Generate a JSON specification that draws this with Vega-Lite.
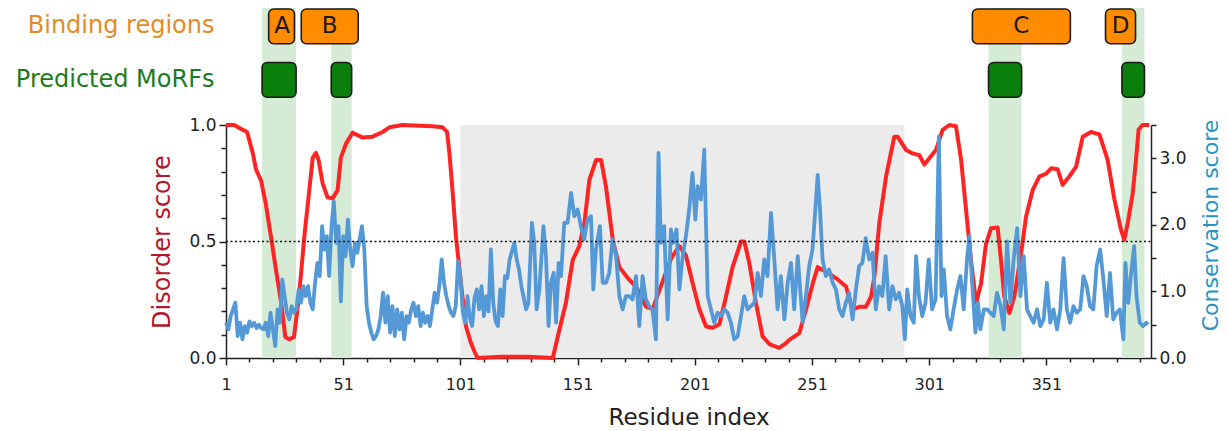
{
  "$schema": "https://vega.github.io/schema/vega-lite/v6.json",
  "padding": {"left": 15, "top": 8, "right": 0, "bottom": 0},
  "background": "white",
  "bounds": "flush",
  "spacing": 0,
  "config": {
    "font": "DejaVu Sans",
    "view": {"stroke": null},
    "axis": {"grid": false, "domainColor": "#222222", "tickColor": "#222222", "labelColor": "#222222", "labelFont": "DejaVu Sans", "titleFont": "DejaVu Sans", "titleFontWeight": "normal", "domainWidth": 1.5, "tickWidth": 1.5}
  },
  "datasets": {
    "regions": [
      {"track": "Binding regions", "r": 19.2, "r2": 30.2, "label": "A", "center": 24.9},
      {"track": "Binding regions", "r": 33.1, "r2": 57.4, "label": "B", "center": 45.2},
      {"track": "Binding regions", "r": 319.4, "r2": 361.2, "label": "C", "center": 340.3},
      {"track": "Binding regions", "r": 376.2, "r2": 389.0, "label": "D", "center": 382.6},
      {"track": "Predicted MoRFs", "r": 16.4, "r2": 30.9, "label": "", "center": 23.6},
      {"track": "Predicted MoRFs", "r": 45.9, "r2": 54.6, "label": "", "center": 50.2},
      {"track": "Predicted MoRFs", "r": 326.3, "r2": 340.4, "label": "", "center": 333.3},
      {"track": "Predicted MoRFs", "r": 383.2, "r2": 392.8, "label": "", "center": 388.0}
    ],
    "shade": [{"r": 101, "r2": 290.4}],
    "threshold": [{"r": 1, "r2": 395.6, "d": 0.5}],
    "dis": [
      {"r":1,"d":1.0},{"r":4.5,"d":1.0},{"r":8,"d":0.98},{"r":10,"d":0.97},{"r":12.4,"d":0.88},{"r":13.8,"d":0.81},{"r":16,"d":0.76},{"r":18,"d":0.66},{"r":20.2,"d":0.52},{"r":22.3,"d":0.38},{"r":24.5,"d":0.24},{"r":26.3,"d":0.09},{"r":28,"d":0.08},{"r":30,"d":0.09},{"r":31.5,"d":0.21},{"r":33,"d":0.36},{"r":34.4,"d":0.52},{"r":36.2,"d":0.69},{"r":38,"d":0.86},{"r":39.4,"d":0.88},{"r":40.5,"d":0.85},{"r":42.2,"d":0.75},{"r":44.3,"d":0.69},{"r":46.5,"d":0.685},{"r":48.6,"d":0.72},{"r":50,"d":0.86},{"r":52.2,"d":0.92},{"r":55,"d":0.967},{"r":59.3,"d":0.946},{"r":63.5,"d":0.95},{"r":67.8,"d":0.97},{"r":70.7,"d":0.99},{"r":76.3,"d":1.0},{"r":89,"d":0.995},{"r":93.4,"d":0.99},{"r":95.3,"d":0.97},{"r":96.3,"d":0.88},{"r":97.7,"d":0.71},{"r":99.1,"d":0.52},{"r":100.5,"d":0.39},{"r":101.9,"d":0.26},{"r":103.4,"d":0.135},{"r":105.5,"d":0.064},{"r":106.9,"d":0.03},{"r":108.3,"d":0.0},{"r":118,"d":0.005},{"r":130,"d":0.005},{"r":140.4,"d":0.0},{"r":143.2,"d":0.12},{"r":146,"d":0.236},{"r":148.9,"d":0.42},{"r":151.7,"d":0.48},{"r":153.9,"d":0.58},{"r":156,"d":0.764},{"r":158.9,"d":0.85},{"r":161,"d":0.85},{"r":163.1,"d":0.735},{"r":166,"d":0.507},{"r":168.8,"d":0.39},{"r":173,"d":0.336},{"r":175.9,"d":0.307},{"r":180.2,"d":0.22},{"r":183,"d":0.21},{"r":187.3,"d":0.33},{"r":191,"d":0.43},{"r":194.4,"d":0.48},{"r":197.2,"d":0.44},{"r":200.1,"d":0.32},{"r":202.9,"d":0.21},{"r":205.8,"d":0.135},{"r":208.6,"d":0.13},{"r":211.5,"d":0.145},{"r":214.3,"d":0.264},{"r":217.1,"d":0.39},{"r":220.7,"d":0.5},{"r":222.1,"d":0.5},{"r":224.2,"d":0.41},{"r":227.1,"d":0.236},{"r":229.9,"d":0.093},{"r":232.8,"d":0.06},{"r":237,"d":0.043},{"r":239.9,"d":0.064},{"r":241.3,"d":0.078},{"r":245.6,"d":0.107},{"r":248.4,"d":0.207},{"r":251.3,"d":0.32},{"r":253.4,"d":0.39},{"r":257,"d":0.37},{"r":261.2,"d":0.343},{"r":265.5,"d":0.307},{"r":268.3,"d":0.207},{"r":271.2,"d":0.22},{"r":274,"d":0.22},{"r":276.2,"d":0.264},{"r":277.6,"d":0.35},{"r":279.7,"d":0.58},{"r":282.6,"d":0.78},{"r":286.1,"d":0.95},{"r":287.5,"d":0.95},{"r":291.1,"d":0.893},{"r":293.9,"d":0.878},{"r":296.8,"d":0.87},{"r":298.9,"d":0.83},{"r":301,"d":0.857},{"r":303.9,"d":0.893},{"r":306.7,"d":0.979},{"r":309.6,"d":1.0},{"r":312.4,"d":0.995},{"r":314.6,"d":0.85},{"r":316.7,"d":0.636},{"r":318.8,"d":0.42},{"r":321,"d":0.236},{"r":323.1,"d":0.32},{"r":325.2,"d":0.49},{"r":327.4,"d":0.557},{"r":330.2,"d":0.56},{"r":331.6,"d":0.42},{"r":333,"d":0.264},{"r":335.2,"d":0.193},{"r":337.3,"d":0.264},{"r":340.2,"d":0.45},{"r":342.3,"d":0.607},{"r":345.1,"d":0.72},{"r":348,"d":0.78},{"r":350.8,"d":0.79},{"r":353,"d":0.814},{"r":355.8,"d":0.81},{"r":357.9,"d":0.743},{"r":360.8,"d":0.78},{"r":363.6,"d":0.82},{"r":366.5,"d":0.95},{"r":370,"d":0.97},{"r":373.6,"d":0.96},{"r":377.1,"d":0.85},{"r":380,"d":0.68},{"r":382.8,"d":0.55},{"r":384.2,"d":0.507},{"r":385.7,"d":0.58},{"r":387.8,"d":0.707},{"r":389.2,"d":0.85},{"r":390.3,"d":0.98},{"r":392,"d":1.0},{"r":394.9,"d":1.0}
    ],
    "cons": [
      {"r":1,"c":0.53},{"r":2,"c":0.43},{"r":3,"c":0.63},{"r":4,"c":0.73},{"r":5,"c":0.83},{"r":6,"c":0.33},{"r":7,"c":0.53},{"r":8,"c":0.28},{"r":9,"c":0.48},{"r":10,"c":0.38},{"r":11,"c":0.55},{"r":12,"c":0.48},{"r":13,"c":0.53},{"r":14,"c":0.45},{"r":15,"c":0.5},{"r":16,"c":0.45},{"r":17,"c":0.43},{"r":18,"c":0.53},{"r":19,"c":0.33},{"r":20,"c":0.68},{"r":21,"c":0.43},{"r":22,"c":0.18},{"r":23,"c":0.73},{"r":24,"c":0.53},{"r":25,"c":1.18},{"r":26,"c":0.93},{"r":27,"c":0.68},{"r":28,"c":0.58},{"r":29,"c":0.78},{"r":30,"c":0.68},{"r":31,"c":0.73},{"r":32,"c":1.03},{"r":33,"c":0.83},{"r":34,"c":1.08},{"r":35,"c":0.93},{"r":36,"c":1.08},{"r":37,"c":0.83},{"r":38,"c":0.73},{"r":39,"c":1.13},{"r":40,"c":1.43},{"r":41,"c":1.23},{"r":42,"c":1.98},{"r":43,"c":1.63},{"r":44,"c":1.83},{"r":45,"c":1.23},{"r":46,"c":1.98},{"r":47,"c":2.35},{"r":48,"c":1.73},{"r":49,"c":1.98},{"r":50,"c":0.85},{"r":51,"c":1.83},{"r":52,"c":1.53},{"r":53,"c":2.08},{"r":54,"c":1.63},{"r":55,"c":1.38},{"r":56,"c":1.73},{"r":57,"c":1.58},{"r":58,"c":1.78},{"r":59,"c":1.98},{"r":60,"c":1.63},{"r":61,"c":0.78},{"r":62,"c":0.53},{"r":63,"c":0.38},{"r":64,"c":0.28},{"r":65,"c":0.33},{"r":66,"c":0.43},{"r":67,"c":0.63},{"r":68,"c":0.98},{"r":69,"c":0.53},{"r":70,"c":0.93},{"r":71,"c":0.38},{"r":72,"c":0.78},{"r":73,"c":0.33},{"r":74,"c":0.73},{"r":75,"c":0.43},{"r":76,"c":0.68},{"r":77,"c":0.28},{"r":78,"c":0.63},{"r":79,"c":0.53},{"r":80,"c":0.73},{"r":81,"c":0.83},{"r":82,"c":0.63},{"r":83,"c":0.78},{"r":84,"c":0.48},{"r":85,"c":0.68},{"r":86,"c":0.53},{"r":87,"c":0.63},{"r":88,"c":0.48},{"r":89,"c":0.73},{"r":90,"c":0.98},{"r":91,"c":0.83},{"r":92,"c":1.08},{"r":93,"c":1.48},{"r":94,"c":1.13},{"r":95,"c":0.93},{"r":96,"c":0.78},{"r":97,"c":0.68},{"r":98,"c":0.63},{"r":99,"c":0.78},{"r":100,"c":1.45},{"r":101,"c":1.2},{"r":102,"c":0.7},{"r":103,"c":0.53},{"r":104,"c":0.93},{"r":105,"c":0.6},{"r":106,"c":0.48},{"r":107,"c":0.9},{"r":108,"c":1.03},{"r":109,"c":0.73},{"r":110,"c":1.08},{"r":111,"c":0.63},{"r":112,"c":0.93},{"r":113,"c":0.7},{"r":114,"c":1.63},{"r":115,"c":0.83},{"r":116,"c":0.55},{"r":117,"c":0.48},{"r":118,"c":1.03},{"r":119,"c":0.63},{"r":120,"c":1.23},{"r":121,"c":1.2},{"r":122,"c":1.48},{"r":124,"c":1.73},{"r":125,"c":1.48},{"r":126,"c":1.33},{"r":127,"c":1.08},{"r":129,"c":0.73},{"r":130,"c":0.83},{"r":131.5,"c":2.03},{"r":132.5,"c":1.73},{"r":133.5,"c":0.73},{"r":134.7,"c":1.03},{"r":136.4,"c":1.98},{"r":137.5,"c":1.53},{"r":138.6,"c":0.48},{"r":139.6,"c":1.13},{"r":140.8,"c":1.28},{"r":141.8,"c":0.53},{"r":142.9,"c":1.43},{"r":143.9,"c":1.23},{"r":145.3,"c":2.03},{"r":146.7,"c":2.03},{"r":148.2,"c":2.48},{"r":149.6,"c":2.13},{"r":151,"c":2.23},{"r":152.4,"c":1.98},{"r":153.8,"c":1.78},{"r":155.2,"c":2.08},{"r":156.7,"c":2.13},{"r":157.7,"c":1.03},{"r":158.8,"c":1.63},{"r":160.5,"c":1.98},{"r":161.7,"c":1.13},{"r":163.1,"c":1.13},{"r":164.5,"c":1.28},{"r":165.9,"c":1.78},{"r":167.4,"c":1.53},{"r":168.8,"c":0.93},{"r":170.2,"c":0.73},{"r":171.6,"c":0.93},{"r":173,"c":0.93},{"r":174.4,"c":0.88},{"r":175.9,"c":1.23},{"r":177.3,"c":0.48},{"r":178.7,"c":1.23},{"r":180.1,"c":0.88},{"r":181.5,"c":0.78},{"r":182.9,"c":0.73},{"r":184.4,"c":0.28},{"r":185.5,"c":3.08},{"r":186.5,"c":1.73},{"r":187.9,"c":1.98},{"r":189.4,"c":0.58},{"r":190.8,"c":1.93},{"r":191.8,"c":1.73},{"r":193.2,"c":1.93},{"r":194.4,"c":1.03},{"r":195.8,"c":1.53},{"r":197.2,"c":1.83},{"r":198.6,"c":2.23},{"r":200,"c":2.78},{"r":201.2,"c":2.08},{"r":202.2,"c":2.58},{"r":203.6,"c":2.38},{"r":205,"c":3.13},{"r":206.5,"c":0.93},{"r":207.9,"c":0.73},{"r":209.3,"c":0.53},{"r":210.7,"c":0.68},{"r":212.2,"c":0.63},{"r":213.6,"c":0.73},{"r":215,"c":0.68},{"r":216.4,"c":0.53},{"r":217.8,"c":0.28},{"r":219.3,"c":0.33},{"r":220.7,"c":0.63},{"r":222.1,"c":0.93},{"r":223.5,"c":0.73},{"r":224.9,"c":0.78},{"r":226.4,"c":0.83},{"r":227.8,"c":1.28},{"r":229.2,"c":0.93},{"r":230.6,"c":1.48},{"r":232,"c":1.23},{"r":233.5,"c":2.18},{"r":234.9,"c":1.48},{"r":236.3,"c":0.73},{"r":237.7,"c":1.23},{"r":239.2,"c":0.58},{"r":240.6,"c":1.13},{"r":242,"c":1.43},{"r":243.4,"c":0.73},{"r":244.9,"c":1.53},{"r":247,"c":0.53},{"r":248.4,"c":0.93},{"r":249.8,"c":1.38},{"r":251.2,"c":1.63},{"r":252.4,"c":2.23},{"r":253.4,"c":2.75},{"r":254.4,"c":2.23},{"r":255.5,"c":1.48},{"r":256.9,"c":1.23},{"r":258.3,"c":1.33},{"r":259.8,"c":1.13},{"r":261.2,"c":1.03},{"r":262.6,"c":0.73},{"r":264,"c":0.63},{"r":265.4,"c":0.83},{"r":266.8,"c":0.98},{"r":268.3,"c":0.58},{"r":269.7,"c":1.03},{"r":271.1,"c":1.38},{"r":272.5,"c":1.43},{"r":273.9,"c":1.8},{"r":275.4,"c":1.48},{"r":276.8,"c":1.58},{"r":278.2,"c":0.73},{"r":279.6,"c":1.08},{"r":281,"c":0.93},{"r":282.4,"c":1.53},{"r":283.9,"c":0.73},{"r":285.3,"c":1.08},{"r":286.7,"c":0.88},{"r":288.1,"c":0.98},{"r":289.5,"c":0.78},{"r":290.6,"c":0.28},{"r":291.6,"c":1.03},{"r":293,"c":0.63},{"r":294.4,"c":0.53},{"r":295.4,"c":1.53},{"r":296.6,"c":0.93},{"r":298,"c":0.63},{"r":299.4,"c":0.83},{"r":300.8,"c":1.48},{"r":302.2,"c":0.73},{"r":303.7,"c":0.88},{"r":305.1,"c":3.33},{"r":306.2,"c":0.93},{"r":307.2,"c":1.33},{"r":308.6,"c":0.63},{"r":310,"c":0.43},{"r":311.4,"c":0.73},{"r":312.9,"c":1.03},{"r":314.3,"c":1.23},{"r":315.7,"c":0.73},{"r":317.1,"c":1.48},{"r":318.1,"c":1.83},{"r":319.3,"c":1.13},{"r":320.7,"c":0.38},{"r":321.8,"c":0.83},{"r":322.8,"c":0.43},{"r":324.3,"c":0.73},{"r":325.7,"c":0.73},{"r":327.1,"c":0.68},{"r":328.5,"c":0.63},{"r":329.9,"c":0.98},{"r":331.4,"c":0.78},{"r":332.8,"c":0.43},{"r":334.2,"c":1.75},{"r":335.6,"c":0.83},{"r":337,"c":1.48},{"r":338.5,"c":1.95},{"r":339.9,"c":0.93},{"r":341.3,"c":1.53},{"r":342.7,"c":0.73},{"r":344.1,"c":0.63},{"r":345.5,"c":0.53},{"r":347,"c":0.73},{"r":348.4,"c":0.48},{"r":349.8,"c":0.58},{"r":351.2,"c":1.13},{"r":352.6,"c":0.53},{"r":354,"c":0.73},{"r":355.5,"c":0.43},{"r":356.9,"c":0.73},{"r":358.3,"c":1.5},{"r":359.7,"c":0.73},{"r":361.1,"c":0.53},{"r":362.5,"c":0.78},{"r":363.9,"c":0.68},{"r":365.4,"c":0.73},{"r":366.8,"c":1.23},{"r":368.2,"c":1.08},{"r":369.6,"c":0.78},{"r":371,"c":0.73},{"r":372.4,"c":1.38},{"r":373.9,"c":1.63},{"r":375.3,"c":1.18},{"r":376.7,"c":0.63},{"r":378.1,"c":1.28},{"r":379.5,"c":0.58},{"r":380.9,"c":0.68},{"r":382.3,"c":0.73},{"r":383.8,"c":0.28},{"r":384.7,"c":1.43},{"r":385.9,"c":0.83},{"r":387.3,"c":1.33},{"r":388.4,"c":1.68},{"r":389.4,"c":0.93},{"r":390.8,"c":0.53},{"r":392.2,"c":0.48},{"r":393.6,"c":0.53},{"r":394.3,"c":0.5}
    ]
  },
  "vconcat": [
    {
      "width": 925,
      "height": 117,
      "encoding": {
        "x": {"field": "r", "type": "quantitative", "scale": {"domain": [1, 395.6], "nice": false, "zero": false}, "axis": null}
      },
      "layer": [
        {
          "data": {"name": "regions"},
          "transform": [{"filter": "datum.track == 'Predicted MoRFs'"}],
          "mark": {"type": "rect", "color": "#d6ebd6"},
          "encoding": {"x2": {"field": "r2"}}
        },
        {
          "data": {"name": "regions"},
          "mark": {"type": "rect", "cornerRadius": 5, "stroke": "#1a1a1a", "strokeWidth": 1.6, "opacity": 1},
          "encoding": {
            "x2": {"field": "r2"},
            "y": {
              "field": "track", "type": "nominal",
              "scale": {"domain": ["Binding regions", "Predicted MoRFs"], "paddingInner": 0.352, "paddingOuter": 0.269, "align": 0.035},
              "axis": {
                "title": null, "domain": false, "ticks": false, "labelPadding": 12, "labelFontSize": 24, "labelLimit": 0,
                "labelColor": {"condition": {"test": "datum.value == 'Binding regions'", "value": "#e48b25"}, "value": "#1d7a1d"}
              }
            },
            "color": {"field": "track", "type": "nominal", "scale": {"domain": ["Binding regions", "Predicted MoRFs"], "range": ["#ff8c00", "#0b7f0b"]}, "legend": null}
          }
        },
        {
          "data": {"name": "regions"},
          "transform": [{"filter": "datum.label != ''"}],
          "mark": {"type": "text", "fontSize": 23, "color": "#1a1a1a", "font": "DejaVu Sans"},
          "encoding": {
            "x": {"field": "center", "type": "quantitative", "scale": {"domain": [1, 395.6], "nice": false, "zero": false}, "axis": null},
            "y": {"field": "track", "type": "nominal"},
            "text": {"field": "label"}
          }
        }
      ]
    },
    {
      "width": 925,
      "height": 233,
      "encoding": {
        "x": {
          "field": "r", "type": "quantitative",
          "scale": {"domain": [1, 395.6], "nice": false, "zero": false},
          "axis": {
            "title": "Residue index",
            "values": [1, 11, 21, 31, 41, 51, 61, 71, 81, 91, 101, 111, 121, 131, 141, 151, 161, 171, 181, 191, 201, 211, 221, 231, 241, 251, 261, 271, 281, 291, 301, 311, 321, 331, 341, 351, 361, 371, 381, 391],
            "labelExpr": "datum.value % 50 == 1 ? datum.label : ''",
            "tickSize": {"condition": {"test": "datum.value % 50 == 1", "value": 7}, "value": 4},
            "labelFontSize": 16, "labelPadding": 11, "labelOverlap": false, "labelFlush": false,
            "titleFontSize": 23, "titlePadding": 14, "titleColor": "#222222"
          }
        }
      },
      "layer": [
        {
          "data": {"name": "shade"},
          "mark": {"type": "rect", "color": "#ebebeb"},
          "encoding": {"x2": {"field": "r2"}}
        },
        {
          "data": {"name": "regions"},
          "transform": [{"filter": "datum.track == 'Predicted MoRFs'"}],
          "mark": {"type": "rect", "color": "#d6ebd6"},
          "encoding": {"x2": {"field": "r2"}}
        },
        {
          "data": {"name": "dis"},
          "mark": {"type": "line", "color": "#ff2424", "strokeWidth": 4, "strokeJoin": "round"},
          "encoding": {
            "y": {
              "field": "d", "type": "quantitative",
              "scale": {"domain": [0, 1], "nice": false, "zero": false},
              "axis": {
                "orient": "left", "title": "Disorder score",
                "values": [0, 0.1, 0.2, 0.3, 0.4, 0.5, 0.6, 0.7, 0.8, 0.9, 1.0],
                "format": ".1f",
                "labelExpr": "abs(datum.value * 2 - round(datum.value * 2)) < 0.01 ? format(datum.value, '.1f') : ''",
                "tickSize": {"condition": {"test": "abs(datum.value * 2 - round(datum.value * 2)) < 0.01", "value": 7}, "value": 5},
                "labelFontSize": 17, "labelPadding": 3, "labelOverlap": false, "labelFlush": false,
                "titleFontSize": 24, "titleColor": "#b2182b", "titlePadding": 14
              }
            }
          }
        },
        {
          "data": {"name": "cons"},
          "mark": {"type": "line", "color": "#5499d6", "strokeWidth": 3.8, "strokeJoin": "round"},
          "encoding": {
            "y": {
              "field": "c", "type": "quantitative",
              "scale": {"domain": [0, 3.5], "nice": false, "zero": false},
              "axis": {
                "orient": "right", "title": "Conservation score",
                "values": [0, 0.5, 1, 1.5, 2, 2.5, 3, 3.5],
                "labelExpr": "datum.value % 1 == 0 ? format(datum.value, '.1f') : ''",
                "tickSize": 5, "labelFontSize": 17, "labelPadding": 3, "labelOverlap": false, "labelFlush": false,
                "titleFontSize": 22, "titleColor": "#2a93c0", "titlePadding": 14, "titleAngle": 270, "titleBaseline": "top", "titleY": 100
              }
            }
          }
        },
        {
          "data": {"name": "threshold"},
          "mark": {"type": "rule", "color": "#111111", "strokeWidth": 1.7, "strokeDash": [2, 2.5]},
          "encoding": {
            "x2": {"field": "r2"},
            "y": {"field": "d", "type": "quantitative", "scale": {"domain": [0, 1], "nice": false, "zero": false}, "axis": null}
          }
        }
      ],
      "resolve": {"scale": {"y": "independent"}, "axis": {"y": "independent"}}
    }
  ]
}
